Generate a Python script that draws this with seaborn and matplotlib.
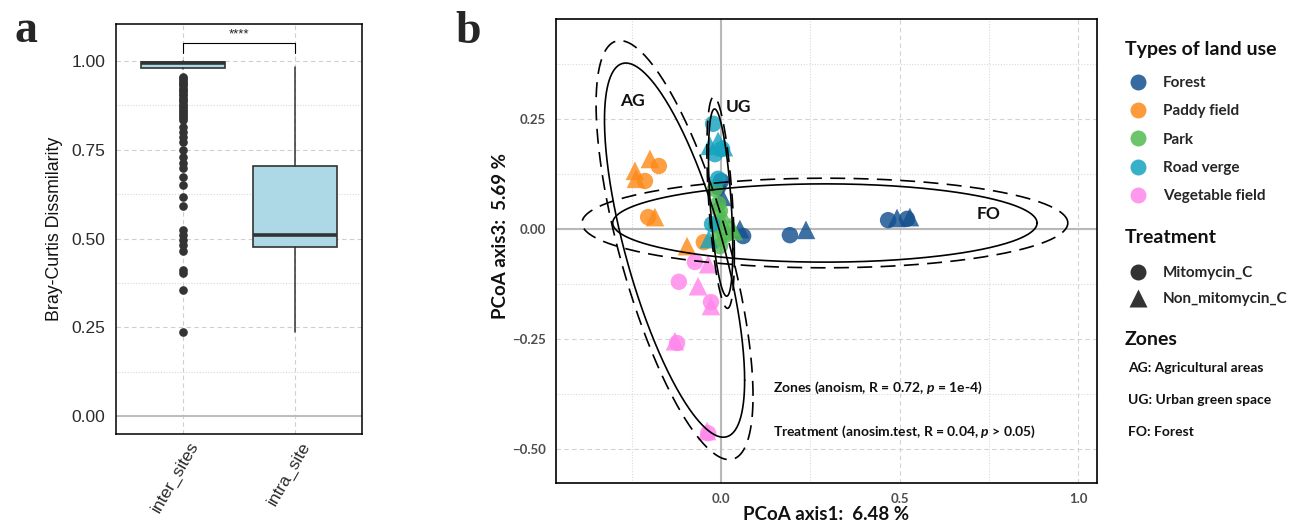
import numpy as np
import pandas as pd
import matplotlib
matplotlib.use("Agg")
import matplotlib.pyplot as plt
import matplotlib.transforms as mtrans
import seaborn as sns
from matplotlib.lines import Line2D
from matplotlib.ticker import FixedLocator, FuncFormatter

# ------------------------------------------------------------------ data
# Panel a : box statistics
box_groups = ["inter_sites", "intra_site"]
box_q1 = [0.981, 0.477]
box_median = [0.993, 0.511]
box_q3 = [0.998, 0.704]
box_whislo = [0.976, 0.237]
box_whishi = [1.000, 0.984]
inter_fliers = [0.956, 0.951, 0.947, 0.941, 0.936, 0.931, 0.925, 0.919, 0.915,
                0.908, 0.903, 0.897, 0.891, 0.886, 0.879, 0.874, 0.868, 0.862,
                0.857, 0.851, 0.846, 0.840, 0.834, 0.815, 0.801, 0.787, 0.771,
                0.749, 0.731, 0.712, 0.698, 0.674, 0.651, 0.618, 0.592, 0.524,
                0.510, 0.496, 0.482, 0.466, 0.411, 0.402, 0.355, 0.236]
intra_fliers = []
sig_label = "****"

# Panel b : PCoA scores
land_names = ["Forest", "Paddy field", "Park", "Road verge", "Vegetable field"]
land_colors = ["#14508F", "#FD8A1A", "#52BA52", "#15A3BE", "#FF87EB"]
trt_names = ["Mitomycin_C", "Non_mitomycin_C"]

forest_pc1 = [0.193, 0.238, 0.468, 0.493, 0.521, 0.529, 0.062, 0.053, 0.000, 0.003, -0.008]
forest_pc3 = [-0.014, -0.002, 0.020, 0.025, 0.023, 0.027, -0.016, 0.000, 0.109, 0.073, 0.095]
forest_trt = ["M", "N", "M", "N", "M", "N", "M", "N", "M", "N", "M"]

paddy_pc1 = [-0.199, -0.241, -0.238, -0.174, -0.213, -0.204, -0.185, -0.095, -0.048]
paddy_pc3 = [0.159, 0.132, 0.114, 0.143, 0.109, 0.027, 0.027, -0.039, -0.030]
paddy_trt = ["N", "N", "N", "M", "M", "M", "N", "N", "M"]

park_pc1 = [-0.017, -0.008, -0.003, 0.003, 0.025, 0.011, -0.008, -0.003, 0.036, 0.003, -0.014]
park_pc3 = [0.091, 0.057, 0.041, 0.018, 0.005, -0.014, -0.023, -0.039, -0.005, 0.034, 0.009]
park_trt = ["M", "M", "M", "N", "N", "M", "M", "M", "N", "N", "M"]

road_pc1 = [-0.022, -0.031, -0.008, -0.017, 0.003, 0.008, -0.025, -0.034, -0.008]
road_pc3 = [0.239, 0.189, 0.200, 0.170, 0.182, 0.186, 0.011, -0.023, 0.114]
road_trt = ["M", "N", "N", "M", "M", "N", "M", "N", "M"]

veg_pc1 = [-0.073, -0.036, -0.118, -0.064, -0.028, -0.028, -0.129, -0.123, -0.039, -0.036]
veg_pc3 = [-0.075, -0.080, -0.120, -0.130, -0.166, -0.175, -0.255, -0.259, -0.459, -0.464]
veg_trt = ["M", "N", "M", "N", "M", "N", "N", "M", "N", "M"]

# Zone ellipses (centre and covariance-like shape)
zone_names = ["AG", "UG", "FO"]
zone_desc = ["AG: Agricultural areas", "UG: Urban green space", "FO: Forest"]
ell_cx = [-0.130, -0.001, 0.291]
ell_cy = [-0.048, 0.060, 0.0136]
ell_sxx = [0.0385, 0.00116, 0.353]
ell_syy = [0.1806, 0.0452, 0.0079]
ell_sxy = [-0.058, -0.0036, 0.0]
ell_dash_scale = [1.12, 1.13, 1.145]
zone_label_x = [-0.249, 0.048, 0.750]
zone_label_y = [0.291, 0.277, 0.034]

stat_lines = ["Zones (anoism, R = 0.72, $p$ = 1e-4)",
              "Treatment (anosim.test, R = 0.04, $p$ > 0.05)"]
stat_y = [-0.361, -0.461]
stat_x = 0.146

# ------------------------------------------------------------------ style
sns.set_style("white")
plt.rcParams["font.family"] = ["Lato", "DejaVu Sans"]
plt.rcParams["mathtext.fontset"] = "custom"
plt.rcParams["mathtext.it"] = "Lato:italic:bold"
plt.rcParams["mathtext.rm"] = "Lato:bold"
plt.rcParams["axes.unicode_minus"] = True

W, H = 1300, 528
fig = plt.figure(figsize=(13, 5.28), dpi=100)

# ------------------------------------------------------------------ panel a
axa = fig.add_axes([116 / W, 1 - 434 / H, 246 / W, 410 / H])
stats = []
fl = [inter_fliers, intra_fliers]
for i, g in enumerate(box_groups):
    stats.append(dict(label=g, q1=box_q1[i], med=box_median[i], q3=box_q3[i],
                      whislo=box_whislo[i], whishi=box_whishi[i], fliers=fl[i]))
axa.bxp(stats, positions=[0, 1], widths=0.75, patch_artist=True, showcaps=False,
        boxprops=dict(facecolor="#ADD8E6", edgecolor="#333333", linewidth=1.2),
        medianprops=dict(color="#333333", linewidth=2.6),
        whiskerprops=dict(color="#333333", linewidth=1.1),
        flierprops=dict(marker="o", markerfacecolor="#333333", markeredgecolor="#333333",
                        markersize=5.2), zorder=3)
axa.set_xlim(-0.6, 1.6)
axa.set_ylim(-0.05, 1.104)
axa.yaxis.set_major_locator(FixedLocator([0, 0.25, 0.5, 0.75, 1.0]))
axa.yaxis.set_minor_locator(FixedLocator([0.125, 0.375, 0.625, 0.875]))
axa.yaxis.set_major_formatter(FuncFormatter(lambda v, p: f"{v:.2f}"))
axa.set_xticks([0, 1])
axa.set_xticklabels([])
xlab_tr = mtrans.blended_transform_factory(axa.transData, axa.transAxes) + \
    mtrans.ScaledTranslation(5 / 100, -5 / 100, fig.dpi_scale_trans)
for i, g in enumerate(box_groups):
    axa.text(i, 0, g, transform=xlab_tr, rotation=60, ha="right", va="top",
             rotation_mode="anchor", family="Liberation Sans", fontsize=12.5,
             color="#2B2B2B")
for lab in axa.get_yticklabels():
    lab.set_family("Liberation Sans")
axa.tick_params(axis="both", which="major", length=4, width=1, color="#333333",
                labelsize=12.5, labelcolor="#2B2B2B", direction="out")
axa.tick_params(axis="y", which="minor", length=0)
axa.grid(True, which="major", axis="both", ls=(0, (4, 3)), color="#CFCFCF", lw=0.8)
axa.grid(True, which="minor", axis="y", ls=(0, (1, 1.5)), color="#D8D8D8", lw=0.8)
axa.set_axisbelow(True)
axa.axhline(0, color="#BDBDBD", lw=1.4, zorder=1)
for s in axa.spines.values():
    s.set_color("black")
    s.set_linewidth(1.1)
axa.set_ylabel("Bray-Curtis Dissmilarity", family="Liberation Sans", fontsize=12.8,
               color="#111111", labelpad=6)
sig_y = 1.05
axa.plot([0, 0, 1, 1], [sig_y - 0.027, sig_y, sig_y, sig_y - 0.027], color="black", lw=0.8)
axa.text(0.5, sig_y + 0.008, sig_label, ha="center", va="bottom", fontsize=9.5,
         family="Liberation Sans", color="#222222")

# ------------------------------------------------------------------ panel b
axb = fig.add_axes([556 / W, 1 - 483 / H, 541 / W, 464 / H])

df = pd.concat([
    pd.DataFrame({"pc1": forest_pc1, "pc3": forest_pc3, "trt": forest_trt, "land": "Forest"}),
    pd.DataFrame({"pc1": paddy_pc1, "pc3": paddy_pc3, "trt": paddy_trt, "land": "Paddy field"}),
    pd.DataFrame({"pc1": park_pc1, "pc3": park_pc3, "trt": park_trt, "land": "Park"}),
    pd.DataFrame({"pc1": road_pc1, "pc3": road_pc3, "trt": road_trt, "land": "Road verge"}),
    pd.DataFrame({"pc1": veg_pc1, "pc3": veg_pc3, "trt": veg_trt, "land": "Vegetable field"}),
], ignore_index=True)
palette = dict(zip(land_names, land_colors))

axb.axhline(0, color="#B8B8B8", lw=1.5, zorder=1)
axb.axvline(0, color="#B8B8B8", lw=1.5, zorder=1)
sns.scatterplot(data=df, x="pc1", y="pc3", hue="land", hue_order=land_names,
                style="trt", markers={"M": "o", "N": "^"}, size="trt",
                sizes={"M": 140, "N": 180}, palette=palette, alpha=0.82,
                linewidth=0, legend=False, ax=axb, zorder=3)

t = np.linspace(0, 2 * np.pi, 400)
for i in range(len(zone_names)):
    M = np.array([[ell_sxx[i], ell_sxy[i]], [ell_sxy[i], ell_syy[i]]])
    L = np.linalg.cholesky(M)
    circ = np.vstack([np.cos(t), np.sin(t)])
    for sc, ls in [(1.0, "-"), (ell_dash_scale[i], (0, (9, 5)))]:
        pts = L @ circ * sc
        axb.plot(ell_cx[i] + pts[0], ell_cy[i] + pts[1], color="black", lw=1.2,
                 ls=ls, zorder=4)
    axb.text(zone_label_x[i], zone_label_y[i], zone_names[i], fontsize=12.5,
             fontweight="bold", ha="center", va="center", zorder=5, color="#111111")

for s_txt, sy in zip(stat_lines, stat_y):
    axb.text(stat_x, sy, s_txt, fontsize=10, fontweight="bold", ha="left",
             va="center", color="#111111", zorder=5)

axb.set_xlim(-0.462, 1.053)
axb.set_ylim(-0.577, 0.477)
axb.xaxis.set_major_locator(FixedLocator([0.0, 0.5, 1.0]))
axb.xaxis.set_minor_locator(FixedLocator([-0.25, 0.25, 0.75]))
axb.yaxis.set_major_locator(FixedLocator([-0.5, -0.25, 0.0, 0.25]))
axb.yaxis.set_minor_locator(FixedLocator([-0.375, -0.125, 0.125, 0.375]))
axb.xaxis.set_major_formatter(FuncFormatter(lambda v, p: f"{v:.1f}".replace("-", "\u2212")))
axb.yaxis.set_major_formatter(FuncFormatter(lambda v, p: f"{v:.2f}".replace("-", "\u2212")))
axb.tick_params(axis="both", which="major", length=4, width=1, color="#555555",
                labelsize=9.5, labelcolor="#4D4D4D", direction="out")
for lab in axb.get_xticklabels() + axb.get_yticklabels():
    lab.set_fontweight("bold")
axb.tick_params(axis="both", which="minor", length=0)
axb.grid(True, which="major", ls=(0, (4, 3)), color="#D3D3D3", lw=0.8)
axb.grid(True, which="minor", ls=(0, (1, 1.5)), color="#DADADA", lw=0.8)
axb.set_axisbelow(True)
for s in axb.spines.values():
    s.set_color("black")
    s.set_linewidth(1.2)
axb.set_xlabel("PCoA axis1:  6.48 %", fontsize=13.5, fontweight="bold", color="#111111")
axb.set_ylabel("PCoA axis3:  5.69 %", fontsize=13.5, fontweight="bold", color="#111111")
axb.xaxis.set_label_coords(0.5, -(515 - 483) / 464)
axb.yaxis.set_label_coords((500 - 556) / 541, (483 - 236) / 464)
axb.xaxis.label.set_va("center")
axb.yaxis.label.set_va("center")

# ------------------------------------------------------------------ legends
title_kw = dict(fontsize=14, fontweight="bold", ha="left", va="baseline", color="#111111")
fig.text(1125 / W, 1 - 55 / H, "Types of land use", **title_kw)
fig.text(1125 / W, 1 - 243 / H, "Treatment", **title_kw)
fig.text(1125 / W, 1 - 345 / H, "Zones", **title_kw)

land_handles = [Line2D([], [], ls="", marker="o", markersize=11.5, markerfacecolor=c,
                       markeredgecolor="none", alpha=0.85) for c in land_colors]
leg_kw = dict(loc="upper left", frameon=False, prop=dict(family="Lato", weight="bold", size=11),
              borderpad=0, handlelength=2.0, handletextpad=0.63, borderaxespad=0)
fig.legend(land_handles, land_names, bbox_to_anchor=(1122.7 / W, 1 - 76 / H),
           labelspacing=0.94, **leg_kw)
trt_handles = [Line2D([], [], ls="", marker="o", markersize=11.5, markerfacecolor="#333333",
                      markeredgecolor="none"),
               Line2D([], [], ls="", marker="^", markersize=13, markerfacecolor="#333333",
                      markeredgecolor="none")]
fig.legend(trt_handles, trt_names, bbox_to_anchor=(1122.7 / W, 1 - 266 / H),
           labelspacing=0.785, **leg_kw)
for j, d in enumerate(zone_desc):
    fig.text(1128 / W, 1 - (368 + 32 * j) / H, d, fontsize=10, fontweight="bold",
             va="center", ha="left", color="#111111")

# panel tags
fig.text(14 / W, 1 - 42 / H, "a", family="Liberation Serif", fontweight="bold",
         fontsize=33, va="baseline", ha="left")
fig.text(455 / W, 1 - 43 / H, "b", family="Liberation Serif", fontweight="bold",
         fontsize=33, va="baseline", ha="left")

fig.savefig("out.png", dpi=100)
